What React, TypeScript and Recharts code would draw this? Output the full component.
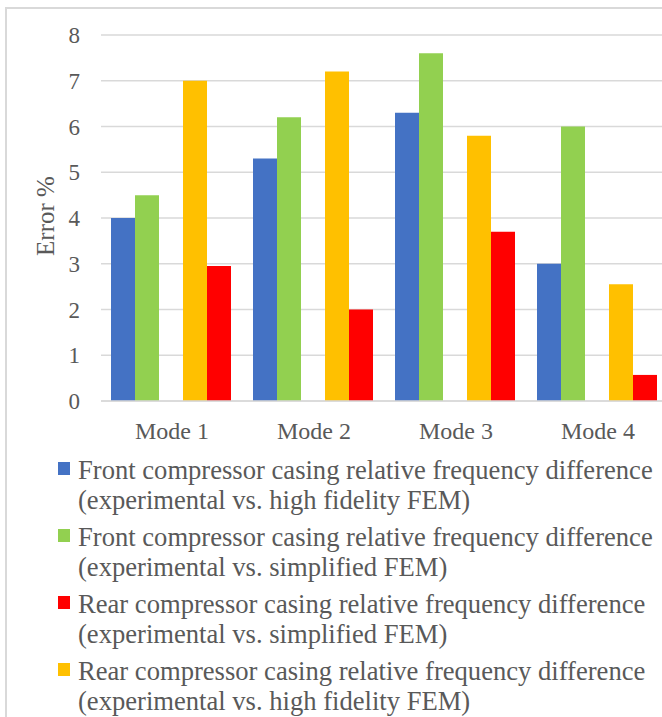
import { BarChart, Bar, XAxis, YAxis, CartesianGrid } from "recharts"

const modes = ["Mode 1", "Mode 2", "Mode 3", "Mode 4"]
const frontHighFidelity = [4.0, 5.3, 6.3, 3.0]
const frontSimplified = [4.5, 6.2, 7.6, 6.0]
// Excel left an empty slot between the front and rear pairs
const emptySlot = [null, null, null, null]
const rearHighFidelity = [7.0, 7.2, 5.8, 2.55]
const rearSimplified = [2.95, 2.0, 3.7, 0.57]
const yTicks = [0, 1, 2, 3, 4, 5, 6, 7, 8]

const legendItems = [
  { color: "#4472C4", line1: "Front compressor casing relative frequency difference", line2: "(experimental vs. high fidelity FEM)" },
  { color: "#92D050", line1: "Front compressor casing relative frequency difference", line2: "(experimental vs. simplified FEM)" },
  { color: "#FF0000", line1: "Rear compressor casing relative frequency difference", line2: "(experimental vs. simplified FEM)" },
  { color: "#FFC000", line1: "Rear compressor casing relative frequency difference", line2: "(experimental vs. high fidelity FEM)" },
]

const FONT = "Liberation Serif"
const TEXT = "#595959"
const GRID = "#d9d9d9"

const data = modes.map((m, i) => ({
  name: m,
  frontHi: frontHighFidelity[i],
  frontSimple: frontSimplified[i],
  empty: emptySlot[i],
  rearHi: rearHighFidelity[i],
  rearSimple: rearSimplified[i],
}))

function ErrorLabel() {
  return (
    <text
      x={45}
      y={216}
      transform="rotate(-90 45 216)"
      textAnchor="middle"
      dominantBaseline="central"
      fill={TEXT}
      fontSize={25}
      fontFamily={FONT}
    >
      Error %
    </text>
  )
}

export default function App() {
  return (
    <div style={{ position: "absolute", left: 0, top: 0, width: 662, height: 717, overflow: "hidden", background: "#fff", fontFamily: FONT }}>
      <div style={{ position: "absolute", left: 5, top: 7, width: 720, height: 740, borderLeft: `2px solid ${GRID}`, borderTop: `2px solid ${GRID}` }} />
      <div style={{ position: "absolute", left: 0, top: 0 }}>
        <BarChart
          width={669}
          height={460}
          data={data}
          margin={{ top: 35, right: 0, left: 0, bottom: 0 }}
          barCategoryGap={10}
          barGap={0}
        >
          <CartesianGrid vertical={false} stroke={GRID} strokeWidth={1.5} />
          <XAxis
            dataKey="name"
            height={59}
            tickLine={false}
            tickMargin={15}
            axisLine={{ stroke: GRID, strokeWidth: 1.5 }}
            tick={{ fill: TEXT, fontSize: 24, fontFamily: FONT }}
          />
          <YAxis
            width={101}
            domain={[0, 8]}
            ticks={yTicks}
            axisLine={false}
            tickLine={false}
            tickMargin={15}
            tick={{ fill: TEXT, fontSize: 23, fontFamily: FONT }}
            label={ErrorLabel}
          />
          <Bar dataKey="frontHi" fill="#4472C4" isAnimationActive={false} />
          <Bar dataKey="frontSimple" fill="#92D050" isAnimationActive={false} />
          <Bar dataKey="empty" fill="none" isAnimationActive={false} />
          <Bar dataKey="rearHi" fill="#FFC000" isAnimationActive={false} />
          <Bar dataKey="rearSimple" fill="#FF0000" isAnimationActive={false} />
        </BarChart>
      </div>
      <div style={{ position: "absolute", left: 58, top: 455, color: TEXT, fontSize: 26.6, lineHeight: "30px" }}>
        {legendItems.map((item) => (
          <div key={item.color + item.line2} style={{ position: "relative", paddingLeft: 20, marginBottom: 7, whiteSpace: "nowrap" }}>
            <span style={{ position: "absolute", left: 0, top: 7, width: 12, height: 13, background: item.color }} />
            <div>{item.line1}</div>
            <div>{item.line2}</div>
          </div>
        ))}
      </div>
    </div>
  )
}
